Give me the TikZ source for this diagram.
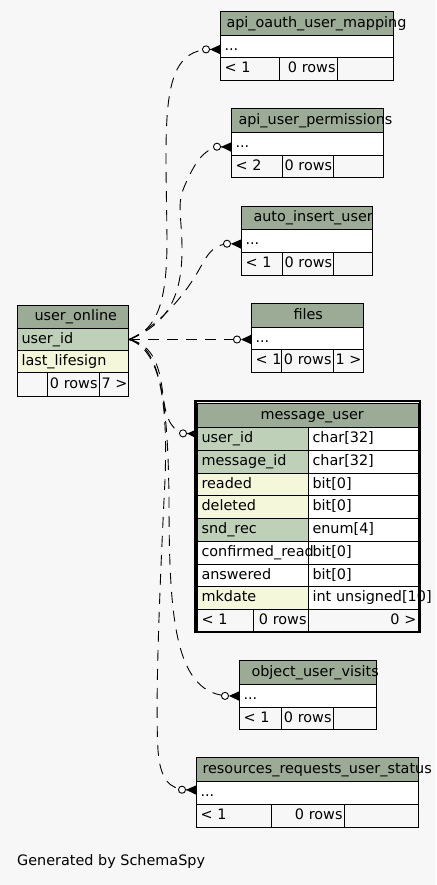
\documentclass[tikz,border=0pt]{standalone}
\usepackage{fontspec}
\setmainfont{DejaVu Sans}
\usetikzlibrary{arrows.meta}
\definecolor{headgreen}{HTML}{9BAB96}
\definecolor{pkgreen}{HTML}{BED1B8}
\definecolor{idxyellow}{HTML}{F4F7DA}
\definecolor{bggray}{HTML}{F7F7F7}
\hyphenpenalty=10000
\exhyphenpenalty=10000
\tikzset{
  w/.code={\pgfmathsetlengthmacro\cellw{#1-2*\pgfkeysvalueof{/pgf/inner xsep}}%
    \tikzset{text width/.expanded=\cellw}},
}
\begin{document}
\begin{tikzpicture}[x=1pt, y=-1pt, font=\fontsize{14.4pt}{17pt}\selectfont,
    cell/.style={draw, line width=1pt, anchor=north west, inner xsep=4pt, inner ysep=0pt,
      minimum height=23pt, text height=11pt, text depth=3.5pt, align=left},
    hdr/.style={cell, fill=headgreen, minimum height=24pt, inner xsep=#1},
    pk/.style={cell, fill=pkgreen},
    idx/.style={cell, fill=idxyellow},
    col/.style={cell, fill=white},
    ft/.style={cell, fill=bggray},
    ftr/.style={ft, inner xsep=2pt, align=right},
    rel/.style={line width=0.9pt, dash pattern=on 11pt off 8pt,
      -{Circle[open, fill=white, length=8pt, width=8pt] Triangle[reversed, length=10pt, width=9pt]}}]
        \useasboundingbox (0,0) rectangle (436,885);
        \fill[bggray] (0,0) rectangle (436,885);

        \node[hdr=17, w=111, minimum height=23pt] (uo_h) at (17,305) {user\_online};
        \node[pk, w=111, minimum height=22pt] (uo_uid) at (17,328) {user\_id};
        \node[idx, w=111, minimum height=22pt] (uo_ls) at (17,350) {last\_lifesign};
        \node[ft, w=30, minimum height=24pt] (uo_f1) at (17,372) {};
        \node[ftr, w=52, minimum height=24pt] (uo_f2) at (47,372) {0~rows};
        \node[ftr, w=29, minimum height=24pt] (uo_f3) at (99,372) {7~>};

        \node[hdr=6, w=173] (aoum_h) at (220,11) {api\_oauth\_user\_mapping};
        \node[col, w=173, minimum height=22pt] (aoum_r) at (220,35) {...};
        \node[ft, w=59] (aoum_f1) at (220,57) {<~1};
        \node[ftr, w=58] (aoum_f2) at (279,57) {0~rows};
        \node[ft, w=56] (aoum_f3) at (337,57) {};

        \node[hdr=7, w=152] (aup_h) at (231,108) {api\_user\_permissions};
        \node[col, w=152] (aup_r) at (231,132) {...};
        \node[ft, w=51, minimum height=22pt] (aup_f1) at (231,155) {<~2};
        \node[ftr, w=51, minimum height=22pt] (aup_f2) at (282,155) {0~rows};
        \node[ft, w=50, minimum height=22pt] (aup_f3) at (333,155) {};

        \node[hdr=12, w=131, minimum height=23pt] (aiu_h) at (241,206) {auto\_insert\_user};
        \node[col, w=131] (aiu_r) at (241,229) {...};
        \node[ft, w=41] (aiu_f1) at (241,252) {<~1};
        \node[ftr, w=51] (aiu_f2) at (282,252) {0~rows};
        \node[ft, w=39] (aiu_f3) at (333,252) {};

        \node[hdr=42, w=112] (fl_h) at (251,303) {files};
        \node[col, w=112, minimum height=22pt] (fl_r) at (251,327) {...};
        \node[ft, w=30] (fl_f1) at (251,349) {<~1};
        \node[ftr, w=52] (fl_f2) at (281,349) {0~rows};
        \node[ftr, w=30] (fl_f3) at (333,349) {1~>};

        \node[hdr=63, w=221] (mu_h) at (197,403) {message\_user};
        \foreach \fld/\typ/\fc [count=\i from 0] in {user\_id/char[32]/pkgreen,
            message\_id/char[32]/pkgreen, readed/bit[0]/idxyellow, deleted/bit[0]/idxyellow,
            snd\_rec/enum[4]/pkgreen, confirmed\_read/bit[0]/white, answered/bit[0]/white,
            mkdate/int~unsigned[10]/idxyellow}
        {
            \node[col, w=110, minimum height=22.75pt] (mu_t\i) at (308,{427+22.75*\i}) {\typ};
            \node[cell, fill=\fc, w=111, minimum height=22.75pt] (mu_c\i) at (197,{427+22.75*\i}) {\fld};
        }
        \node[ft, w=56, minimum height=22pt] (mu_f1) at (197,609) {<~1};
        \node[ftr, w=55, minimum height=22pt] (mu_f2) at (253,609) {0~rows};
        \node[ftr, w=110, minimum height=22pt] (mu_f3) at (308,609) {0~>};
        \draw[line width=2.5pt] ([shift={(-1.5,-2)}]mu_h.north west) rectangle ([shift={(1,0)}]mu_f3.south east);

        \node[hdr=12, w=137] (ouv_h) at (239,660) {object\_user\_visits};
        \node[col, w=137] (ouv_r) at (239,684) {...};
        \node[ft, w=42, minimum height=22pt] (ouv_f1) at (239,707) {<~1};
        \node[ftr, w=52, minimum height=22pt] (ouv_f2) at (281,707) {0~rows};
        \node[ft, w=43, minimum height=22pt] (ouv_f3) at (333,707) {};

        \node[hdr=6, w=222] (rr_h) at (196,757) {resources\_requests\_user\_status};
        \node[col, w=222] (rr_r) at (196,781) {...};
        \node[ft, w=75] (rr_f1) at (196,804) {<~1};
        \node[ftr, w=73] (rr_f2) at (271,804) {0~rows};
        \node[ft, w=74] (rr_f3) at (344,804) {};

        \draw[rel] (uo_uid.east) .. controls (158,330) and (167,300) .. (167,240)
            .. controls (166,120) and (158,49) .. ([yshift=-3pt]aoum_r.west);
        \draw[rel] (uo_uid.east) .. controls (165,325) and (182,300) .. (182,250)
            .. controls (182,215) and (176,205) .. (185,185)
            .. controls (195,162) and (205,146.5) .. ([yshift=-3pt]aup_r.west);
        \draw[rel] (uo_uid.east) .. controls (160,325) and (185,295) .. (200,268)
            .. controls (210,250) and (215,243.5) .. ([yshift=-3pt]aiu_r.west);
        \draw[rel] (uo_uid.east) -- (uo_uid.east -| fl_r.west);
        \draw[rel] (uo_uid.east) .. controls (155,345) and (160,370) .. (163,395)
            .. controls (166,420) and (172,433) .. ([yshift=5pt]mu_c0.west);
        \draw[rel] (uo_uid.east) .. controls (160,345) and (168,400) .. (169,500)
            .. controls (169,620) and (175,695.5) .. (ouv_r.west);
        \draw[rel] (uo_uid.east) .. controls (160,350) and (168,400) .. (165,480)
            .. controls (160,580) and (155,700) .. (158,750)
            .. controls (160,780) and (170,789.5) .. ([yshift=3pt]rr_r.west);

        \node[anchor=west, inner sep=0pt] (gen) at (17,862) {Generated by SchemaSpy};
\end{tikzpicture}
\end{document}
